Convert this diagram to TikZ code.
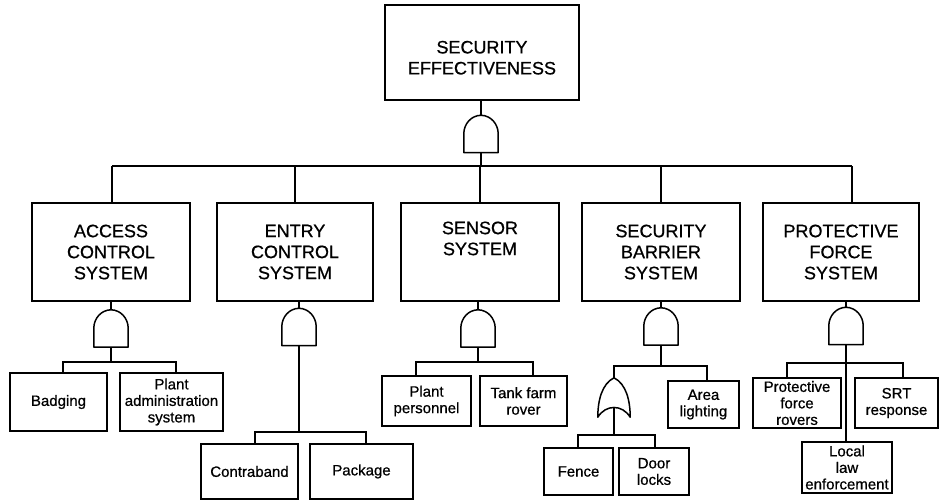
\documentclass[tikz,border=0pt]{standalone}
\usepackage{fontspec}
\setmainfont{Liberation Sans}[FakeBold=0.7]
\tikzset{
  lw/.style={line width=1.5pt},
  bigbox/.style={draw, lw, rectangle, align=center, inner sep=0pt,
    font=\fontsize{18}{21}\selectfont},
  leaf/.style={draw, lw, rectangle, align=center, inner sep=0pt,
    font=\fontsize{15}{16.5}\selectfont},
  gatebox/.style={rectangle, inner sep=0pt, minimum width=34pt, minimum height=37pt},
  orbox/.style={rectangle, inner sep=0pt, minimum width=32pt, minimum height=39pt},
}
\newcommand{\andg}[3]{%
  \node[gatebox] (#1) at (#2,#3) {};
  \draw[lw, line join=round] (#1.south west) -- (#1.south east) -- ([yshift=19pt]#1.south east)
    .. controls ([yshift=29pt]#1.south east) and ([xshift=9.4pt]#1.north) .. (#1.north)
    .. controls ([xshift=-9.4pt]#1.north) and ([yshift=29pt]#1.south west) .. ([yshift=19pt]#1.south west)
    -- cycle;}
\newcommand{\org}[3]{%
  \node[orbox] (#1) at (#2,#3) {};
  \draw[lw, line join=round] (#1.north)
    .. controls ([xshift=12pt,yshift=-6pt]#1.north) and ([yshift=17pt]#1.south east) .. (#1.south east)
    .. controls ([xshift=-8pt,yshift=13pt]#1.south east) and ([xshift=8pt,yshift=13pt]#1.south west) .. (#1.south west)
    .. controls ([yshift=17pt]#1.south west) and ([xshift=-12pt,yshift=-6pt]#1.north) .. (#1.north) -- cycle;}
\begin{document}
\begin{tikzpicture}[x=1pt,y=-1pt]
\useasboundingbox (0,0) rectangle (940,501);
% top
\node[bigbox, minimum width=194pt, minimum height=95pt] (top) at (482,52.5) {\rule{0pt}{23pt}SECURITY\\EFFECTIVENESS};
% level 2
\node[bigbox, minimum width=158pt, minimum height=98pt] (acc) at (111,252) {ACCESS\\CONTROL\\SYSTEM};
\node[bigbox, minimum width=156pt, minimum height=98pt] (ent) at (295,252) {ENTRY\\CONTROL\\SYSTEM};
\node[bigbox, minimum width=158pt, minimum height=98pt] (sen) at (480,252) {SENSOR\\SYSTEM\\\strut};
\node[bigbox, minimum width=158pt, minimum height=98pt] (bar) at (661,252) {SECURITY\\BARRIER\\SYSTEM};
\node[bigbox, minimum width=156pt, minimum height=98pt] (pro) at (841,252) {PROTECTIVE\\FORCE\\SYSTEM};
% gates
\andg{g0}{481}{134}
\andg{gA}{111}{328.5}
\andg{gE}{299}{327}
\andg{gS}{478}{328.5}
\andg{gB}{661}{326.5}
\andg{gP}{846}{326}
\org{gO}{614}{397.5}
% leaves
\node[leaf, minimum width=97pt, minimum height=58pt] (bad) at (58.5,402) {Badging};
\node[leaf, minimum width=103pt, minimum height=58pt] (pad) at (171.5,402) {Plant\\administration\\system};
\node[leaf, minimum width=97pt, minimum height=55pt] (con) at (249.5,471.5) {Contraband};
\node[leaf, minimum width=103pt, minimum height=55pt] (pac) at (361.5,471.5) {Package};
\node[leaf, minimum width=89pt, minimum height=50pt] (ppe) at (426.5,401) {Plant\\personnel};
\node[leaf, minimum width=87pt, minimum height=50pt] (tfr) at (523.5,401) {Tank farm\\rover};
\node[leaf, minimum width=69pt, minimum height=47pt] (fen) at (578.5,471.5) {Fence};
\node[leaf, minimum width=70pt, minimum height=47pt] (dlo) at (654,471.5) {Door\\locks};
\node[leaf, minimum width=71pt, minimum height=47pt] (are) at (703.5,404.5) {Area\\lighting};
\node[leaf, minimum width=88pt, minimum height=50pt] (pfr) at (797,403) {Protective\\force\\rovers};
\node[leaf, minimum width=83pt, minimum height=50pt] (srt) at (896.5,403) {SRT\\response};
\node[leaf, minimum width=90pt, minimum height=51pt] (llo) at (847,467.5) {Local\\law\\enforcement};
% top level wiring
\draw[lw] (g0.north) -- (g0.north |- top.south);
\coordinate (bL) at (112,166);
\coordinate (bR) at (852,166);
\draw[lw] (g0.south) -- (g0.south |- bL);
\draw[lw] (bL) -- (bR);
\draw[lw] (bL) -- (bL |- acc.north);
\draw[lw] (ent.north |- bL) -- (ent.north);
\draw[lw] (sen.north |- bL) -- (sen.north);
\draw[lw] (bar.north |- bL) -- (bar.north);
\draw[lw] (bR) -- (bR |- pro.north);
% gates to level 2 boxes
\draw[lw] (gA.north) -- (gA.north |- acc.south);
\draw[lw] (gE.north) -- (gE.north |- ent.south);
\draw[lw] (gS.north) -- (gS.north |- sen.south);
\draw[lw] (gB.north) -- (gB.north |- bar.south);
\draw[lw] (gP.north) -- (gP.north |- pro.south);
% access
\coordinate (aL) at (63,362); \coordinate (aR) at (176,362);
\draw[lw] (gA.south) -- (gA.south |- aL);
\draw[lw] (aL |- bad.north) -- (aL) -- (aR) -- (aR |- pad.north);
% entry
\coordinate (eL) at (255,432); \coordinate (eR) at (366,432);
\draw[lw] (gE.south) -- (gE.south |- eL);
\draw[lw] (eL |- con.north) -- (eL) -- (eR) -- (eR |- pac.north);
% sensor
\coordinate (sL) at (416,362); \coordinate (sR) at (533,362);
\draw[lw] (gS.south) -- (gS.south |- sL);
\draw[lw] (sL |- ppe.north) -- (sL) -- (sR) -- (sR |- tfr.north);
% barrier
\coordinate (rL) at (614,366); \coordinate (rR) at (707,366);
\draw[lw] (gB.south) -- (gB.south |- rL);
\draw[lw] (gO.north) -- (rL) -- (rR) -- (rR |- are.north);
\coordinate (oL) at (578,435); \coordinate (oR) at (655,435);
\draw[lw] ([yshift=10pt]gO.south) -- (gO.south |- oL);
\draw[lw] (oL |- fen.north) -- (oL) -- (oR) -- (oR |- dlo.north);
% protective
\coordinate (pL) at (787,363); \coordinate (pR) at (903,363);
\draw[lw] (gP.south) -- (gP.south |- llo.north);
\draw[lw] (pL |- pfr.north) -- (pL) -- (pR) -- (pR |- srt.north);
\end{tikzpicture}
\end{document}
